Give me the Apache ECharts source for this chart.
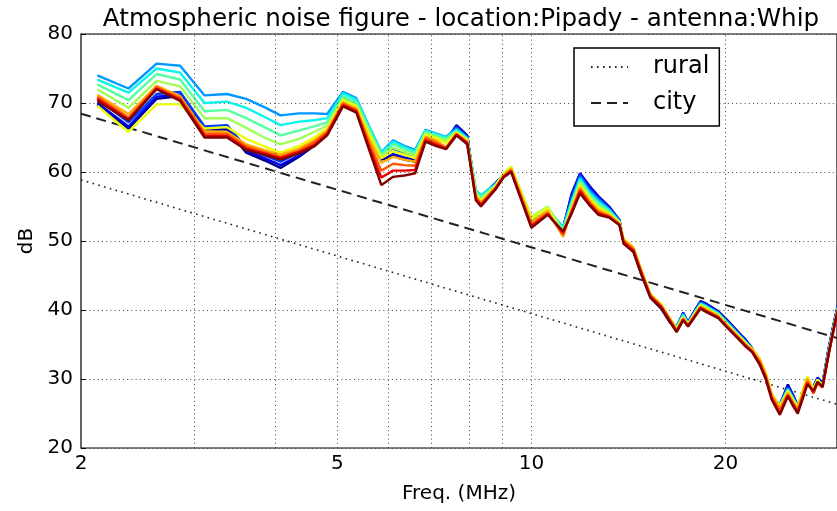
<!DOCTYPE html>
<html>
<head>
<meta charset="utf-8">
<script src="https://cdn.jsdelivr.net/npm/echarts@6/dist/echarts.min.js"></script>
<style>
  html, body { margin: 0; padding: 0; background: #fff; }
  #chart { width: 837px; height: 511px; }
</style>
</head>
<body>
<div id="chart"></div>
<script>
// frequencies (MHz) shared by all measured curves
var freqs = [2.12, 2.37, 2.62, 2.85, 3.11, 3.37, 3.61, 3.85, 4.08, 4.36,
  4.6, 4.82, 5.1, 5.35, 5.6, 5.85, 6.1, 6.35, 6.6, 6.85,
  7.1, 7.37, 7.65, 7.95, 8.2, 8.35, 8.8, 9.05, 9.3, 10.0,
  10.6, 11.2, 11.55, 11.9, 12.3, 12.7, 13.2, 13.7, 13.9, 14.4,
  14.8, 15.3, 15.9, 16.4, 16.8, 17.2, 17.5, 17.9, 18.3, 18.6,
  19.5, 20.1, 21.0, 21.5, 22.0, 22.6, 23.1, 23.6, 24.3, 25.0,
  25.5, 25.9, 26.4, 26.8, 27.4, 27.8, 28.3, 28.9, 29.6, 30.4];

// one noise curve per measurement, oldest (blue) to newest (dark red)
var s0 = [69.8, 66.3, 70.6, 71.0, 66.0, 66.2, 62.8, 61.7, 60.6, 62.2,
  63.8, 65.6, 70.2, 69.6, 65.6, 61.8, 62.3, 61.8, 61.5, 65.3,
  64.8, 64.4, 66.8, 65.3, 56.6, 56.3, 58.4, 59.6, 60.2, 52.7,
  54.2, 51.8, 56.9, 59.8, 58.0, 56.5, 55.0, 53.0, 49.8, 48.5,
  45.3, 41.8, 40.2, 38.2, 37.5, 39.6, 38.2, 39.8, 41.3, 41.0,
  39.8, 38.6, 36.7, 35.7, 34.5, 32.4, 30.2, 27.3, 26.2, 29.2,
  27.6, 26.1, 28.0, 29.6, 28.9, 30.2, 29.4, 34.3, 39.0, 43.5];
var s1 = [70.0, 66.6, 70.9, 71.2, 66.3, 66.4, 63.1, 62.0, 61.0, 62.4,
  64.0, 65.8, 70.4, 69.8, 65.8, 62.0, 62.6, 62.1, 61.8, 65.5,
  65.0, 64.6, 66.7, 65.2, 56.8, 56.4, 58.4, 59.6, 60.3, 52.8,
  54.3, 51.9, 56.7, 59.8, 57.9, 56.4, 54.9, 53.0, 49.9, 48.6,
  45.4, 41.9, 40.3, 38.3, 37.5, 39.6, 38.2, 39.8, 41.2, 40.9,
  39.7, 38.5, 36.6, 35.6, 34.4, 32.4, 30.3, 27.3, 26.3, 29.0,
  27.5, 26.1, 28.0, 29.6, 28.9, 30.1, 29.3, 34.2, 38.9, 43.4];
var s2 = [70.6, 67.2, 71.3, 71.6, 66.6, 66.8, 63.5, 62.4, 61.5, 62.8,
  64.3, 66.0, 70.7, 70.1, 66.2, 62.4, 63.4, 62.8, 62.4, 65.8,
  65.3, 64.8, 66.5, 65.0, 57.0, 56.5, 58.3, 59.6, 60.3, 52.9,
  54.4, 52.0, 56.4, 59.6, 57.6, 56.2, 54.8, 52.9, 49.9, 48.7,
  45.5, 42.0, 40.4, 38.4, 37.6, 39.5, 38.1, 39.7, 41.1, 40.8,
  39.6, 38.4, 36.5, 35.5, 34.4, 32.5, 30.3, 27.4, 26.3, 28.8,
  27.3, 26.0, 28.0, 29.7, 28.8, 30.0, 29.2, 34.1, 38.8, 43.3];
var s3 = [74.0, 72.1, 75.7, 75.4, 71.1, 71.3, 70.6, 69.4, 68.2, 68.5,
  68.5, 68.4, 71.6, 70.7, 66.6, 62.9, 64.6, 63.8, 63.2, 66.1,
  65.6, 65.1, 66.3, 65.0, 57.3, 56.6, 58.3, 59.6, 60.4, 53.0,
  54.5, 52.0, 56.0, 59.3, 57.3, 56.0, 54.6, 52.9, 50.0, 48.7,
  45.5, 42.0, 40.5, 38.5, 37.6, 39.4, 38.1, 39.6, 41.0, 40.7,
  39.6, 38.3, 36.4, 35.4, 34.3, 32.5, 30.4, 27.5, 26.3, 28.6,
  27.2, 26.0, 28.1, 29.8, 28.8, 29.9, 29.2, 34.0, 38.7, 43.2];
var s4 = [73.4, 71.5, 75.0, 74.4, 70.0, 70.2, 69.3, 68.0, 66.8, 67.3,
  67.5, 67.8, 71.4, 70.5, 66.5, 62.8, 64.4, 63.6, 63.0, 66.0,
  65.5, 65.0, 66.1, 64.9, 57.4, 56.6, 58.2, 59.6, 60.5, 53.2,
  54.7, 51.9, 55.7, 59.0, 57.0, 55.7, 54.5, 52.8, 50.0, 48.8,
  45.6, 42.1, 40.6, 38.6, 37.5, 39.3, 38.0, 39.6, 40.9, 40.6,
  39.5, 38.2, 36.3, 35.3, 34.3, 32.6, 30.5, 27.6, 26.2, 28.5,
  27.1, 26.0, 28.2, 29.9, 28.7, 29.8, 29.1, 33.9, 38.6, 43.1];
var s5 = [72.7, 70.4, 74.2, 73.4, 68.8, 69.0, 67.8, 66.5, 65.3, 66.0,
  66.6, 67.2, 71.0, 70.1, 66.2, 62.5, 64.0, 63.3, 62.7, 65.8,
  65.3, 64.8, 65.9, 64.8, 57.1, 56.3, 58.1, 59.7, 60.6, 53.4,
  54.9, 51.6, 55.4, 58.7, 56.7, 55.4, 54.3, 52.8, 50.1, 48.9,
  45.7, 42.2, 40.7, 38.7, 37.4, 39.2, 38.0, 39.5, 40.8, 40.5,
  39.4, 38.1, 36.3, 35.3, 34.3, 32.7, 30.6, 27.7, 26.1, 28.4,
  27.0, 26.0, 28.3, 30.0, 28.7, 29.8, 29.1, 33.8, 38.6, 43.1];
var s6 = [72.0, 69.3, 73.2, 72.4, 67.8, 67.8, 66.4, 65.0, 64.0, 64.8,
  65.8, 66.7, 70.6, 69.7, 65.8, 62.3, 63.5, 62.9, 62.4, 65.6,
  65.1, 64.5, 65.8, 64.7, 56.9, 56.0, 58.0, 59.8, 60.8, 53.5,
  55.0, 51.2, 55.1, 58.4, 56.5, 55.1, 54.1, 52.7, 50.2, 49.0,
  45.8, 42.3, 40.8, 38.8, 37.3, 39.0, 37.9, 39.4, 40.7, 40.4,
  39.3, 38.0, 36.2, 35.2, 34.3, 32.8, 30.7, 27.8, 26.0, 28.3,
  26.9, 26.0, 28.4, 30.2, 28.6, 29.8, 29.0, 33.7, 38.5, 43.0];
var s7 = [69.6, 65.8, 69.8, 69.8, 66.3, 66.5, 64.8, 63.7, 62.8, 63.8,
  65.0, 66.3, 70.4, 69.5, 65.4, 62.0, 63.0, 62.5, 62.0, 65.4,
  64.9, 64.2, 65.7, 64.6, 56.7, 55.8, 57.9, 59.7, 60.7, 53.3,
  54.8, 50.7, 54.8, 58.1, 56.2, 54.8, 53.9, 52.6, 50.3, 49.1,
  45.9, 42.3, 40.8, 38.8, 37.2, 38.9, 37.9, 39.3, 40.6, 40.3,
  39.2, 37.9, 36.1, 35.1, 34.4, 33.0, 30.9, 27.9, 26.0, 28.2,
  26.8, 25.9, 28.6, 30.4, 28.5, 29.9, 29.0, 33.6, 38.4, 42.9];
var s8 = [71.2, 68.4, 72.5, 71.0, 65.9, 65.8, 64.0, 63.2, 62.5, 63.4,
  64.6, 66.0, 70.1, 69.2, 64.8, 61.3, 62.2, 61.8, 61.5, 65.1,
  64.6, 63.6, 65.6, 64.4, 56.5, 55.6, 57.8, 59.5, 60.5, 52.8,
  54.4, 50.6, 54.6, 57.8, 55.9, 54.5, 53.8, 52.5, 50.2, 49.0,
  45.8, 42.2, 40.7, 38.7, 37.1, 38.8, 37.8, 39.2, 40.5, 40.2,
  39.1, 37.8, 36.0, 35.0, 34.2, 32.8, 30.7, 27.7, 25.8, 28.0,
  26.6, 25.7, 28.2, 30.1, 28.2, 29.6, 28.9, 33.5, 38.3, 42.8];
var s9 = [70.9, 67.9, 72.3, 70.7, 65.6, 65.5, 63.7, 62.9, 62.2, 63.1,
  64.3, 65.8, 69.9, 69.0, 64.2, 60.2, 61.2, 61.0, 60.9, 64.9,
  64.3, 63.5, 65.5, 64.3, 56.3, 55.4, 57.7, 59.4, 60.3, 52.4,
  54.1, 50.9, 54.4, 57.5, 55.6, 54.2, 53.6, 52.4, 50.0, 48.8,
  45.6, 42.1, 40.6, 38.6, 37.0, 38.7, 37.8, 39.1, 40.4, 40.0,
  39.0, 37.7, 35.9, 34.9, 34.1, 32.5, 30.4, 27.4, 25.5, 27.8,
  26.4, 25.5, 27.8, 29.7, 27.9, 29.4, 28.8, 33.4, 38.2, 42.7];
var s10 = [70.6, 67.6, 72.1, 70.5, 65.3, 65.2, 63.4, 62.7, 62.0, 62.9,
  63.9, 65.5, 69.7, 68.8, 63.6, 59.2, 60.2, 60.2, 60.3, 64.6,
  64.0, 63.4, 65.4, 64.2, 56.1, 55.2, 57.6, 59.3, 60.1, 52.1,
  53.9, 51.2, 54.2, 57.2, 55.4, 54.0, 53.5, 52.3, 49.8, 48.6,
  45.4, 41.9, 40.4, 38.4, 36.9, 38.6, 37.7, 39.0, 40.3, 39.9,
  38.9, 37.6, 35.8, 34.8, 34.0, 32.3, 30.2, 27.2, 25.0, 27.6,
  26.2, 25.2, 27.5, 29.4, 28.1, 29.5, 28.8, 33.4, 38.2, 42.7];
var s11 = [70.3, 67.5, 72.0, 70.3, 65.0, 65.0, 63.2, 62.5, 61.8, 62.7,
  63.7, 65.3, 69.5, 68.6, 63.2, 58.1, 59.3, 59.5, 59.8, 64.4,
  63.8, 63.3, 65.3, 64.0, 55.9, 55.0, 57.5, 59.2, 60.0, 51.9,
  53.8, 51.4, 54.0, 56.9, 55.2, 53.8, 53.4, 52.3, 49.6, 48.4,
  45.2, 41.8, 40.3, 38.3, 36.8, 38.5, 37.6, 38.9, 40.2, 39.8,
  38.8, 37.5, 35.7, 34.7, 33.9, 32.1, 30.0, 27.0, 24.8, 27.5,
  26.0, 25.0, 27.3, 29.2, 28.3, 29.6, 28.9, 33.5, 38.3, 42.8];

var curves = [s0, s1, s2, s3, s4, s5, s6, s7, s8, s9, s10, s11];
// jet colormap samples
var jetColors = ['#000080', '#0000e9', '#003aff', '#0097ff', '#0cf4ea', '#56ffa0',
  '#a0ff56', '#ebff0c', '#ffad00', '#ff5800', '#e90000', '#800000'];

// man-made noise reference lines (end points)
var ruralLine = [[2, 58.85], [30.4, 26.1]];
var cityLine = [[2, 68.45], [30.4, 35.7]];

var gridFreqs = [2, 3, 4, 5, 6, 7, 8, 9, 10, 20];
var tickFreqs = [2, 5, 10, 20];
var xMin = 2, xMax = 29.8;

var dom = document.getElementById('chart');
var myChart = echarts.init(dom);

var markData = gridFreqs.map(function (f) {
  var labelled = tickFreqs.indexOf(f) >= 0;
  return {
    xAxis: f,
    lineStyle: f === xMin ? { color: 'rgba(0,0,0,0)' } : undefined,
    label: labelled ? {
      show: true, position: 'start', distance: 6, formatter: String(f),
      fontSize: 20, color: '#000', fontFamily: 'DejaVu Sans'
    } : { show: false }
  };
});

var series = [];
series.push({
  name: 'rural',
  type: 'line',
  data: ruralLine,
  symbol: 'none',
  z: 1,
  lineStyle: { color: '#222', width: 1.6, type: [1.6, 4.4] },
  itemStyle: { color: '#222' },
  markLine: {
    silent: true,
    symbol: 'none',
    animation: false,
    lineStyle: { color: '#444', width: 1, type: [1, 3.2] },
    data: markData
  }
});
series.push({
  name: 'city',
  type: 'line',
  data: cityLine,
  symbol: 'none',
  z: 1,
  lineStyle: { color: '#222', width: 2, type: [10, 6] },
  itemStyle: { color: '#222' }
});
curves.forEach(function (vals, i) {
  series.push({
    name: 'run' + i,
    type: 'line',
    symbol: 'none',
    z: 2,
    data: freqs.map(function (f, k) { return [f, vals[k]]; }),
    lineStyle: { color: jetColors[i], width: 2.4 },
    itemStyle: { color: jetColors[i] }
  });
});

var option = {
  animation: false,
  title: {
    text: 'Atmospheric noise figure - location:Pipady - antenna:Whip',
    left: 456,
    textAlign: 'center',
    top: 2,
    textStyle: { fontSize: 24.6, fontWeight: 'normal', color: '#000', fontFamily: 'DejaVu Sans' }
  },
  legend: {
    data: ['rural', 'city'],
    orient: 'vertical',
    left: 574,
    top: 48,
    padding: [7, 10, 11, 16],
    itemGap: 12,
    itemWidth: 37,
    itemHeight: 14,
    itemStyle: { opacity: 0 },
    borderColor: '#000',
    borderWidth: 1.5,
    backgroundColor: '#fff',
    textStyle: { fontSize: 24, color: '#000', fontFamily: 'DejaVu Sans', padding: [0, 0, 0, 20], lineHeight: 24 }
  },
  grid: {
    left: 81, top: 34, right: -3, bottom: 63,
    show: true, borderColor: '#000', borderWidth: 1.2
  },
  xAxis: {
    type: 'log',
    logBase: 10,
    min: xMin,
    max: xMax,
    name: 'Freq. (MHz)',
    nameLocation: 'middle',
    nameGap: 36,
    nameTextStyle: { fontSize: 20, color: '#000', fontFamily: 'DejaVu Sans' },
    axisLine: { show: false },
    axisTick: { show: false },
    axisLabel: { show: false },
    splitLine: { show: false }
  },
  yAxis: {
    type: 'value',
    min: 20,
    max: 80,
    interval: 10,
    name: 'dB',
    nameLocation: 'middle',
    nameGap: 38,
    nameTextStyle: { fontSize: 20, color: '#000', fontFamily: 'DejaVu Sans' },
    axisLine: { show: false },
    axisTick: { show: true, inside: true, length: 5, lineStyle: { color: '#000' } },
    axisLabel: { fontSize: 20, color: '#000', margin: 8, fontFamily: 'DejaVu Sans' },
    splitLine: { show: true, lineStyle: { color: '#444', width: 1, type: [1, 3.2] } }
  },
  series: series
};

if (option && typeof option === 'object') {
  myChart.setOption(option, true);
}
</script>
</body>
</html>
